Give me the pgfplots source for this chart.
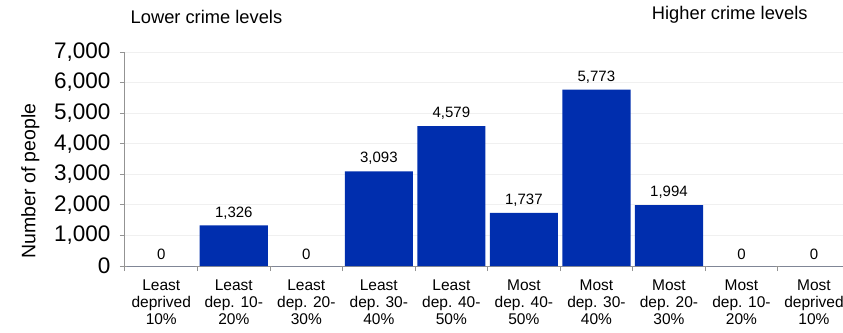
\documentclass[border=0pt]{standalone}
\usepackage{pgfplots}
\pgfplotsset{compat=1.18}
\usepackage{fontspec}
\setmainfont{Liberation Sans}
\definecolor{barblue}{RGB}{0,46,174}
\begin{document}
\begin{tikzpicture}
\begin{axis}[
    at={(0,0)}, anchor=south west,
    scale only axis, width=718pt, height=214pt,
    clip=false,
    xmin=-0.5, xmax=9.4, ymin=0, ymax=7000,
    ybar, bar width=0.94,
    axis x line*=bottom, axis y line*=left,
    axis line style={draw=gray!85, line width=1pt, -},
    tick align=outside, major tick length=5pt,
    tick style={draw=gray!85, line width=1pt},
    ytick={0,1000,...,7000},
    ymajorgrids, grid style={draw=gray!12, line width=1pt},
    xtick={-0.5,0.5,...,8.5}, xticklabels={},
    extra x ticks={0,...,9},
    extra x tick style={tick style={draw=none}},
    extra x tick labels={{Least\\deprived\\10\%},{Least\\dep. 10-\\20\%},{Least\\dep. 20-\\30\%},{Least\\dep. 30-\\40\%},{Least\\dep. 40-\\50\%},{Most\\dep. 40-\\50\%},{Most\\dep. 30-\\40\%},{Most\\dep. 20-\\30\%},{Most\\dep. 10-\\20\%},{Most\\deprived\\10\%}},
    xticklabel style={align=center, font=\fontsize{15.5}{17}\selectfont, yshift=-5pt},
    yticklabel style={font=\fontsize{22.5}{25}\selectfont, xshift=-6pt},
    /pgf/number format/.cd, 1000 sep={,}, assume math mode=true, /pgfplots/.cd,
    ylabel={Number of people},
    ylabel style={font=\fontsize{19.5}{22}\selectfont, at={(axis description cs:-0.132,0.397)}, anchor=center},
    nodes near coords,
    nodes near coords style={font=\fontsize{15}{17}\selectfont, black, yshift=3pt},
]
\addplot[fill=barblue, draw=none] coordinates {
    (0,0) (1,1326) (2,0) (3,3093) (4,4579) (5,1737) (6,5773) (7,1994) (8,0) (9,0)
};
\node[anchor=base west, font=\fontsize{18.3}{21}\selectfont] at (axis description cs:0.003,1.1355) {Lower crime levels};
\node[anchor=base west, font=\fontsize{18.3}{21}\selectfont] at (axis description cs:0.729,1.152) {Higher crime levels};
\end{axis}
\pgfresetboundingbox
\path[use as bounding box] (-125pt,-66pt) rectangle (718pt,266pt);
\end{tikzpicture}
\end{document}
